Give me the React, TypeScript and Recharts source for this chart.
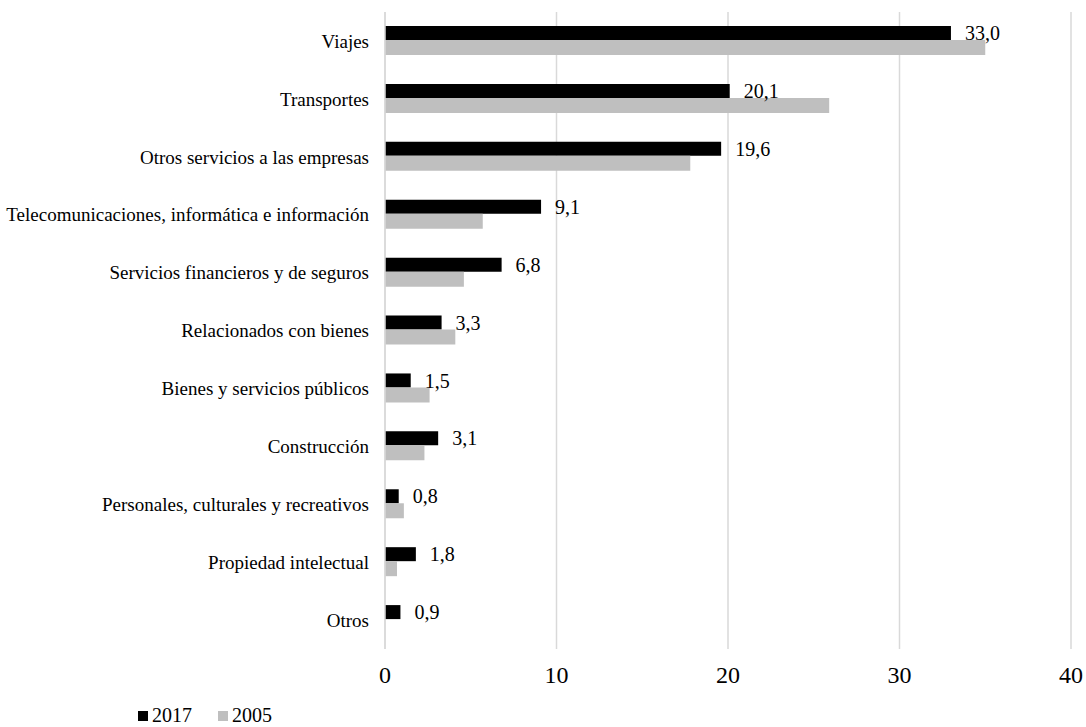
import { Bar, BarChart, CartesianGrid, LabelList, Legend, XAxis, YAxis } from "recharts";

const categories = [
  "Viajes",
  "Transportes",
  "Otros servicios a las empresas",
  "Telecomunicaciones, informática e información",
  "Servicios financieros y de seguros",
  "Relacionados con bienes",
  "Bienes y servicios públicos",
  "Construcción",
  "Personales, culturales y recreativos",
  "Propiedad intelectual",
  "Otros",
];

const values2017 = [33.0, 20.1, 19.6, 9.1, 6.8, 3.3, 1.5, 3.1, 0.8, 1.8, 0.9];
const values2005 = [35.0, 25.9, 17.8, 5.7, 4.6, 4.1, 2.6, 2.3, 1.1, 0.7, 0];

const xTicks = [0, 10, 20, 30, 40];

const data = categories.map((name, i) => ({
  name,
  y2017: values2017[i],
  y2005: values2005[i],
}));

const FONT = '"Liberation Serif", "Times New Roman", serif';

function formatComma(v: unknown): string {
  if (typeof v !== "number") return "";
  return v.toFixed(1).replace(".", ",");
}

function LegendContent() {
  const items = [
    { label: "2017", color: "#000000" },
    { label: "2005", color: "#bfbfbf" },
  ];
  return (
    <div style={{ display: "flex", gap: 26, fontFamily: FONT, fontSize: 20, lineHeight: "23px", color: "#000" }}>
      {items.map((it) => (
        <div key={it.label} style={{ display: "flex", alignItems: "center", gap: 4 }}>
          <span style={{ width: 10, height: 10, background: it.color, display: "inline-block" }} />
          <span>{it.label}</span>
        </div>
      ))}
    </div>
  );
}

export default function App() {
  return (
    <div style={{ position: "absolute", left: 0, top: 0, background: "#fff" }}>
      <BarChart
        width={1086}
        height={727}
        data={data}
        layout="vertical"
        margin={{ top: 12, right: 15, left: 0, bottom: 15 }}
        barGap={0}
      >
        <CartesianGrid horizontal={false} stroke="#d9d9d9" strokeWidth={1.5} />
        <XAxis
          type="number"
          domain={[0, 40]}
          ticks={xTicks}
          axisLine={false}
          tickLine={false}
          tickSize={0}
          tickMargin={17}
          height={40}
          tick={{ fontSize: 24, fontFamily: FONT, fill: "#000" }}
        />
        <YAxis
          type="category"
          dataKey="name"
          width={385}
          axisLine={{ stroke: "#d9d9d9", strokeWidth: 1.5 }}
          tickLine={false}
          tickSize={0}
          tickMargin={16}
          interval={0}
          tick={{ fontSize: 19, fontFamily: FONT, fill: "#000" }}
        />
        <Legend
          verticalAlign="bottom"
          align="left"
          content={<LegendContent />}
          wrapperStyle={{ left: 138, bottom: 0, width: 300 }}
        />
        <Bar dataKey="y2017" name="2017" fill="#000000" barSize={14} isAnimationActive={false}>
          <LabelList
            dataKey="y2017"
            position="right"
            offset={14}
            formatter={formatComma}
            style={{ fontSize: 20, fontFamily: FONT, fill: "#000" }}
          />
        </Bar>
        <Bar dataKey="y2005" name="2005" fill="#bfbfbf" barSize={15} isAnimationActive={false} />
      </BarChart>
    </div>
  );
}
